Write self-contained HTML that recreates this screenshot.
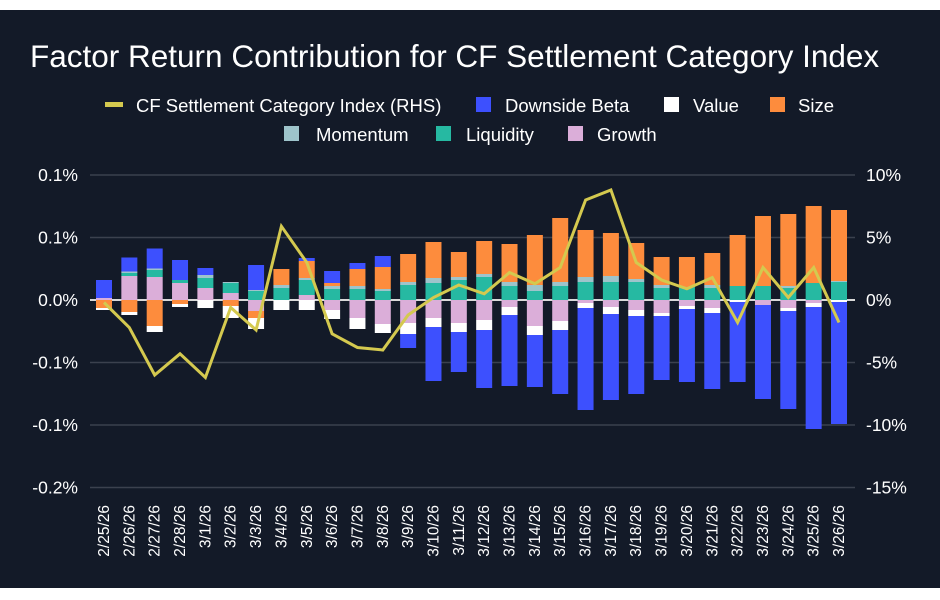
<!DOCTYPE html>
<html><head><meta charset="utf-8"><style>
body{margin:0;background:#fff;}
svg{display:block;font-family:"Liberation Sans",sans-serif;}
</style></head><body>
<svg id="chart" width="940" height="600">
<rect x="0" y="10" width="940" height="578" fill="#131a28"/>
<text x="30" y="67" fill="#fff" font-size="31.5">Factor Return Contribution for CF Settlement Category Index</text>
<g id="legend" font-size="18.5" fill="#fff">
<g><rect x="105" y="102" width="18" height="5" fill="#d4c94f"/><text x="136" y="112">CF Settlement Category Index (RHS)</text></g>
<g><rect x="476" y="97" width="15" height="15" fill="#3d50fe"/><text x="505" y="112">Downside Beta</text></g>
<g><rect x="664" y="97" width="15" height="15" fill="#ffffff"/><text x="693" y="112">Value</text></g>
<g><rect x="770" y="97" width="15" height="15" fill="#fd8c3d"/><text x="798" y="112">Size</text></g>
<g><rect x="284" y="126" width="15" height="15" fill="#9ec4cb"/><text x="316" y="141">Momentum</text></g>
<g><rect x="436" y="126" width="15" height="15" fill="#26b9a2"/><text x="466" y="141">Liquidity</text></g>
<g><rect x="568" y="126" width="15" height="15" fill="#dbaed9"/><text x="597" y="141">Growth</text></g>
</g>
<g id="grid"></g><g id="bars"></g><g id="line"></g><g id="axes"></g>
</svg>
<script>
const categories=["2/25/26","2/26/26","2/27/26","2/28/26","3/1/26","3/2/26","3/3/26","3/4/26","3/5/26","3/6/26","3/7/26","3/8/26","3/9/26","3/10/26","3/11/26","3/12/26","3/13/26","3/14/26","3/15/26","3/16/26","3/17/26","3/18/26","3/19/26","3/20/26","3/21/26","3/22/26","3/23/26","3/24/26","3/25/26","3/26/26"];
// values in % (left axis)
const growth=[0.0016,0.0192,0.0184,0.0136,0.0096,0.0056,-0.0088,0,0.004,-0.008,-0.0144,-0.0192,-0.0184,-0.0144,-0.0184,-0.016,-0.0056,-0.0208,-0.0168,-0.0024,-0.0056,-0.008,-0.0104,-0.0048,-0.0064,0,-0.004,-0.0064,-0.0024,0];
const liquidity=[0,0.0024,0.0056,0.0024,0.008,0.008,0.0072,0.0096,0.012,0.0088,0.0088,0.0072,0.012,0.0136,0.016,0.0184,0.0112,0.0072,0.0112,0.0144,0.0144,0.0144,0.0096,0.0104,0.0096,0.0112,0.0112,0.0096,0.0136,0.0144];
const momentum=[0,0.0012,0.0012,0,0.0024,0.0008,0.0008,0.0024,0.0016,0.0024,0.0024,0.0016,0.0024,0.004,0.0024,0.0024,0.0032,0.0048,0.0032,0.004,0.0048,0.0024,0.0024,0,0.0024,0,0,0.0016,0,0.0008];
const size=[-0.0064,-0.0096,-0.0208,-0.0032,0,-0.0048,-0.0056,0.0128,0.0136,0.0024,0.0136,0.0176,0.0224,0.0288,0.02,0.0264,0.0304,0.04,0.0512,0.0376,0.0344,0.0288,0.0224,0.024,0.0256,0.0408,0.056,0.0576,0.0616,0.0568];
const value=[-0.0016,-0.0024,-0.0048,-0.0024,-0.0064,-0.0096,-0.0088,-0.008,-0.008,-0.0072,-0.0088,-0.0072,-0.0088,-0.0072,-0.0072,-0.008,-0.0064,-0.0072,-0.0072,-0.004,-0.0056,-0.0048,-0.0024,-0.0024,-0.004,-0.0016,0,-0.0024,-0.0032,-0.0016];
const beta=[0.0144,0.0112,0.016,0.016,0.0056,0,0.02,0,0.0024,0.0096,0.0048,0.0088,-0.0112,-0.0432,-0.032,-0.0464,-0.0568,-0.0416,-0.0512,-0.0816,-0.0688,-0.0624,-0.0512,-0.0584,-0.0608,-0.064,-0.0752,-0.0784,-0.0976,-0.0976];
const indexRet=[-0.2,-2.2,-6,-4.3,-6.2,-0.6,-2.4,5.9,3,-2.7,-3.8,-4,-1.2,0.2,1.2,0.5,2.2,1.3,2.6,8,8.8,3,1.6,0.9,1.8,-1.8,2.6,0.2,2.6,-1.8];
const leftTickVals=[0.1,0.05,0,-0.05,-0.1,-0.15];
const leftTickLabels=["0.1%","0.1%","0.0%","-0.1%","-0.1%","-0.2%"];
const rightTicks=[10,5,0,-5,-10,-15];
const rightTickLabels=["10%","5%","0%","-5%","-10%","-15%"];

const NS="http://www.w3.org/2000/svg";
function mk(tag,attrs,parent){const e=document.createElementNS(NS,tag);for(const k in attrs)e.setAttribute(k,attrs[k]);parent.appendChild(e);return e;}
const X0=90,X1=855,Y0=300;
function yLeft(v){return Y0-(v)*1250;}
function yRight(v){return Y0-v*12.5;}
function xc(i){return 104+i*(735/(categories.length-1));}
const grid=document.getElementById('grid'),axes=document.getElementById('axes');
leftTickVals.forEach((v,i)=>{
  const y=yLeft(v);
  const g=mk('line',{x1:X0,x2:X1,y1:y,y2:y,stroke:v===0?'#d9d9d9':'#3b414e','stroke-width':v===0?2:1.5},grid);
  
  
  const t=mk('text',{x:78,y:y+6,'text-anchor':'end',fill:'#fff','font-size':17.5},axes);
  t.textContent=leftTickLabels[i];
  
  
});
rightTicks.forEach((v,i)=>{
  const t=mk('text',{x:866,y:yRight(v)+6,fill:'#fff','font-size':17.5},axes);
  t.textContent=rightTickLabels[i];
  
  
});
const series=[["growth",growth,"#dbaed9"],["liquidity",liquidity,"#26b9a2"],["momentum",momentum,"#9ec4cb"],["size",size,"#fd8c3d"],["value",value,"#ffffff"],["downside-beta",beta,"#3d50fe"]];
const bars=document.getElementById('bars');
categories.forEach((c,i)=>{
  let pos=0,neg=0;const x=xc(i)-8;
  series.forEach(([name,arr,col])=>{
    const v=arr[i];if(!v)return;
    let a,b;
    if(v>0){a=pos;b=pos+v;pos=b;}else{a=neg;b=neg+v;neg=b;}
    const y1=yLeft(Math.max(a,b)),y2=yLeft(Math.min(a,b));
    const r=mk('rect',{x:x,y:y1,width:16,height:y2-y1,fill:col},bars);
    
    
  });
  const t=mk('text',{x:0,y:0,'text-anchor':'end',fill:'#fff','font-size':15.5,transform:`translate(${xc(i)+5},505) rotate(-90)`},axes);
  t.textContent=c;
  
  
});
const pts=indexRet.map((v,i)=>xc(i).toFixed(1)+','+yRight(v).toFixed(1)).join(' ');
const pl=mk('polyline',{points:pts,fill:'none',stroke:'#d4c94f','stroke-width':3,'stroke-linejoin':'miter'},document.getElementById('line'));


</script>
</body></html>
